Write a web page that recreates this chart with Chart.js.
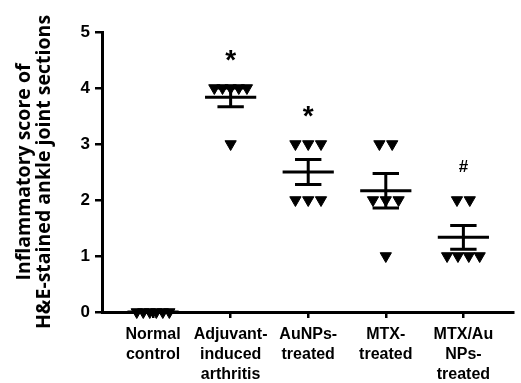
<html>
<head>
<meta charset="utf-8">
<script src="https://cdn.jsdelivr.net/npm/chart.js"></script>
<style>
  body { margin: 0; background: #fff; }
</style>
</head>
<body>
<div style="width:521px;height:383px"><canvas id="scoreChart"></canvas></div>
<script>
// groups (tick labels, one array of lines each)
const groupLabels = [
    ['Normal', 'control'],
    ['Adjuvant-', 'induced', 'arthritis'],
    ['AuNPs-', 'treated'],
    ['MTX-', 'treated'],
    ['MTX/Au', 'NPs-', 'treated']
];

// individual scores of each group
const normalScores = [0, 0, 0, 0, 0, 0];
const adjuvantScores = [4, 4, 4, 4, 4, 3];
const aunpsScores = [3, 3, 3, 2, 2, 2];
const mtxScores = [3, 3, 2, 2, 2, 1];
const mtxAunpsScores = [2, 2, 1, 1, 1, 1];

const allScores = [normalScores, adjuvantScores, aunpsScores, mtxScores, mtxAunpsScores];
const significance = ['', '*', '*', '', '#'];
const yTicks = [0, 1, 2, 3, 4, 5];

const font = "'Liberation Sans', Arial, sans-serif";

// spread points with the same value side by side
const spread = (values, center) => {
    const pts = [];
    const counts = {};
    values.forEach(v => counts[v] = (counts[v] || 0) + 1);
    Object.keys(counts).forEach(key => {
        const n = counts[key];
        const step = n > 1 ? Math.min(0.165, 0.42 / (n - 1)) : 0;
        for (let i = 0; i < n; i++) {
            pts.push({ x: center + (i - (n - 1) / 2) * step, y: Number(key) });
        }
    });
    return pts;
};

const meanOf = arr => arr.reduce((a, b) => a + b, 0) / arr.length;
const semOf = arr => {
    const m = meanOf(arr);
    const sd = Math.sqrt(arr.reduce((a, b) => a + (b - m) * (b - m), 0) / (arr.length - 1));
    return sd / Math.sqrt(arr.length);
};

let datasets = [];

allScores.forEach((scores, i) => {
    const m = meanOf(scores);
    const s = semOf(scores);
    // mean line + sem bar
    datasets.push({
        type: 'line',
        data: [
            { x: i - 0.33, y: m }, { x: i + 0.33, y: m }, { x: i, y: null },
            { x: i - 0.17, y: m + s }, { x: i + 0.17, y: m + s }, { x: i + 0.1, y: null },
            { x: i - 0.17, y: m - s }, { x: i + 0.17, y: m - s }, { x: i + 0.2, y: null },
            { x: i, y: m - s }, { x: i, y: m + s }
        ],
        borderColor: '#000',
        borderWidth: 3,
        pointRadius: 0,
        spanGaps: false,
        clip: false,
        order: 1
    });
    datasets.push({
        type: 'scatter',
        data: spread(scores, i),
        pointStyle: 'triangle',
        rotation: 180,
        radius: 6.5,
        backgroundColor: '#000',
        borderColor: '#000',
        borderWidth: 1,
        clip: false,
        order: 0
    });
});

const markPlugin = {
    id: 'marks',
    afterDatasetsDraw(chart) {
        const { ctx, scales: { x, y } } = chart;
        ctx.save();
        ctx.fillStyle = '#000';
        ctx.textAlign = 'center';
        ctx.textBaseline = 'middle';
        significance.forEach((mark, i) => {
            if (!mark) return;
            const top = Math.max(...allScores[i]);
            const px = x.getPixelForValue(i);
            const py = y.getPixelForValue(top) - 33;
            if (mark === '*') {
                ctx.font = 'bold 28px ' + font;
                ctx.fillText(mark, px, py + 6);
            } else {
                ctx.font = 'bold 17px ' + font;
                ctx.fillText(mark, px, py);
            }
        });
        ctx.restore();
    }
};

new Chart(document.getElementById('scoreChart'), {
    type: 'scatter',
    data: { datasets },
    plugins: [markPlugin],
    options: {
        responsive: true,
        maintainAspectRatio: false,
        animation: false,
        layout: { padding: { top: 32, right: 0, left: 0, bottom: 0 } },
        plugins: {
            legend: { display: false },
            tooltip: { enabled: false }
        },
        scales: {
            x: {
                type: 'linear',
                min: -0.658,
                max: 4.646,
                afterBuildTicks: scale => {
                    scale.ticks = groupLabels.map((l, i) => ({ value: i }));
                },
                afterFit: scale => { scale.height = 71; },
                grid: { drawOnChartArea: false, drawTicks: true, tickLength: 6, color: '#000', lineWidth: 2.5 },
                border: { color: '#000', width: 3 },
                ticks: {
                    color: '#000',
                    padding: 7,
                    maxRotation: 0,
                    autoSkip: false,
                    font: { family: font, size: 16, weight: 'bold', lineHeight: 1.25 },
                    callback: (v) => groupLabels[v] || ''
                }
            },
            y: {
                min: 0,
                max: 5,
                afterBuildTicks: scale => {
                    scale.ticks = yTicks.map(v => ({ value: v }));
                },
                afterFit: scale => { scale.width = 102; },
                grid: { drawOnChartArea: false, drawTicks: true, tickLength: 7, color: '#000', lineWidth: 2.5 },
                border: { color: '#000', width: 3 },
                ticks: {
                    color: '#000',
                    padding: 5,
                    font: { family: font, size: 17, weight: 'bold' }
                },
                title: {
                    display: true,
                    text: ['Inflammatory score of', 'H&E-stained ankle joint sections'],
                    color: '#000',
                    padding: { top: 14, bottom: 0 },
                    font: { family: "'Open Sans', sans-serif", size: 19.5, weight: 'bold', lineHeight: 1.05 }
                }
            }
        }
    }
});
</script>
</body>
</html>
